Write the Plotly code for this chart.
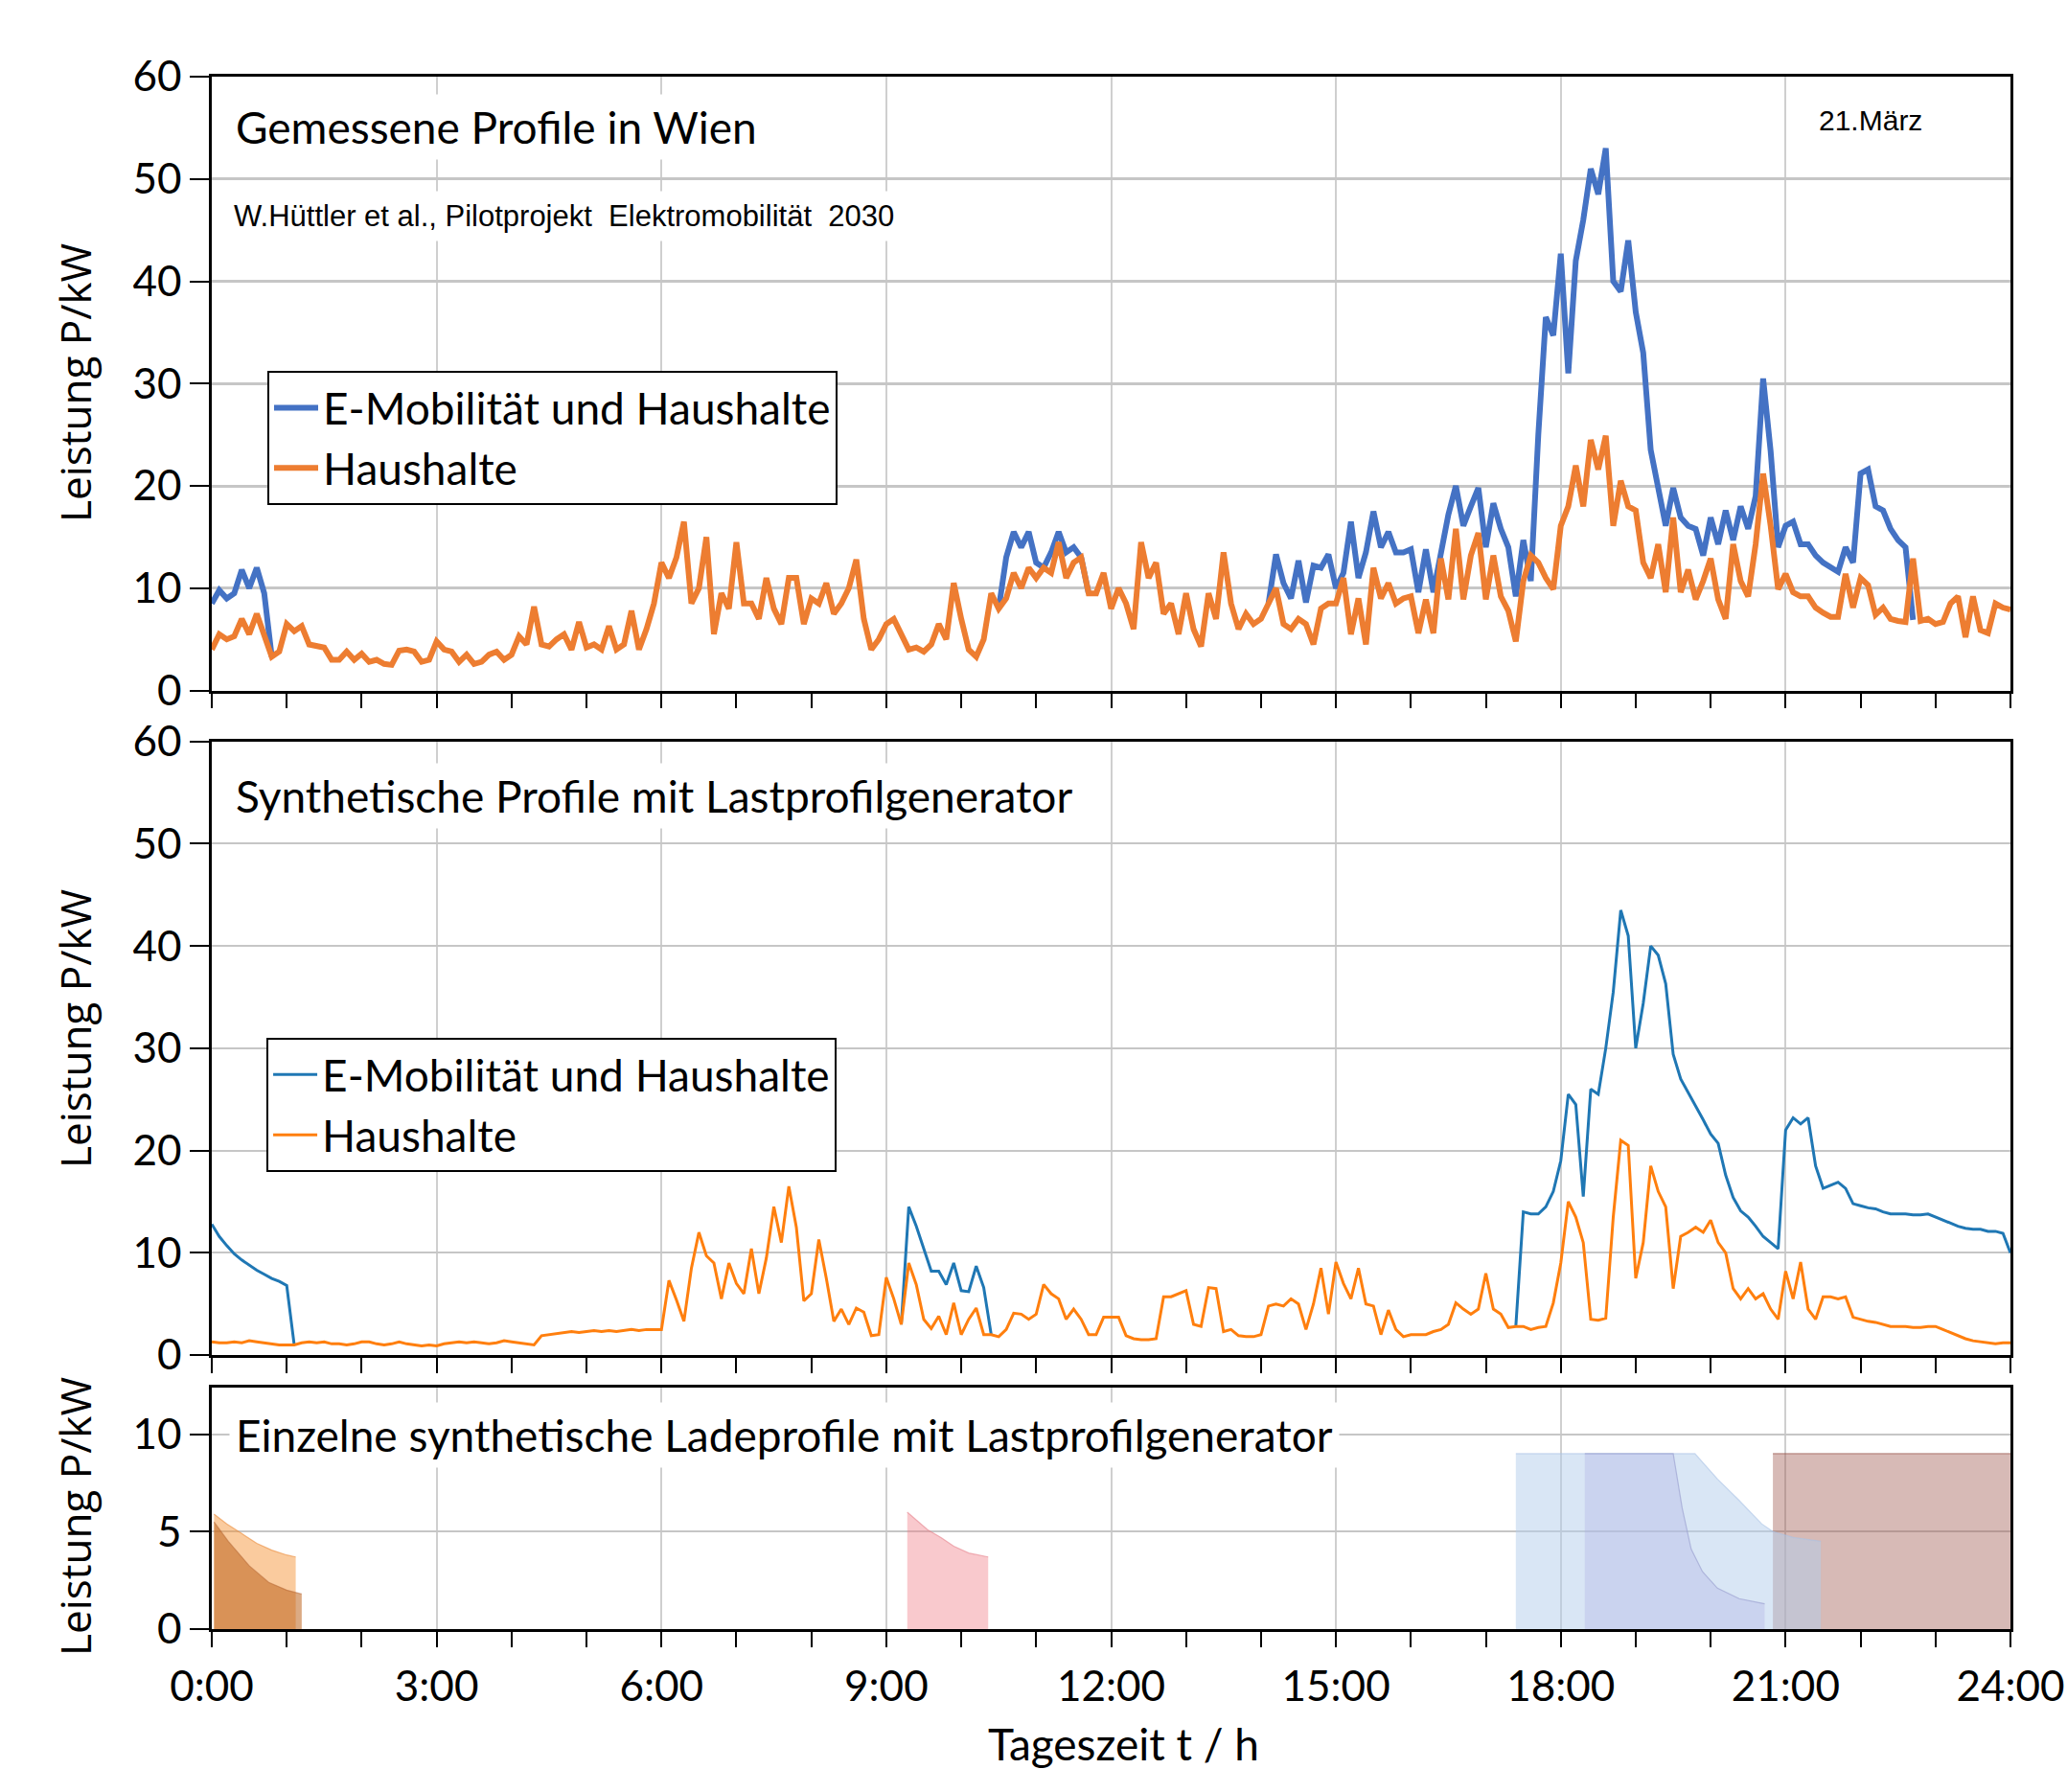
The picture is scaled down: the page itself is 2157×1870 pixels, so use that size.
import plotly.graph_objects as go

# ---------------- data ----------------
# time grid in hours (0.0 ... 24.0, step 0.1 h)
zeit_h = [i / 10 for i in range(241)]

# Top panel: measured profiles Vienna (kW)
haushalte_gemessen = [
    4.0, 5.5, 5.0, 5.3, 7.0, 5.5, 7.5, 5.5, 3.3, 3.8,
    6.5, 5.8, 6.3, 4.5, 4.3, 4.2, 3.0, 3.0, 3.8, 3.0,
    3.6, 2.8, 3.0, 2.6, 2.5, 3.9, 4.0, 3.8, 2.8, 3.0,
    4.8, 4.0, 3.8, 2.8, 3.5, 2.6, 2.8, 3.5, 3.8, 3.0,
    3.5, 5.3, 4.5, 8.2, 4.5, 4.3, 5.0, 5.5, 4.0, 6.7,
    4.2, 4.5, 4.0, 6.3, 4.0, 4.5, 7.8, 4.0, 6.0, 8.5,
    12.5, 11.0, 13.0, 16.5, 8.5, 10.0, 15.0, 5.5, 9.5, 8.0,
    14.5, 8.5, 8.5, 7.0, 11.0, 8.0, 6.5, 11.0, 11.0, 6.5,
    9.0, 8.5, 10.5, 7.5, 8.5, 10.0, 12.8, 7.0, 4.0, 5.0,
    6.5, 7.0, 5.5, 4.0, 4.2, 3.8, 4.5, 6.5, 5.0, 10.5,
    7.0, 4.0, 3.3, 5.0, 9.5, 8.0, 9.0, 11.5, 10.0, 12.0,
    11.0, 12.0, 11.5, 14.5, 11.0, 12.5, 13.0, 9.5, 9.5, 11.5,
    8.0, 10.0, 8.5, 6.0, 14.5, 11.0, 12.5, 7.5, 8.5, 5.5,
    9.5, 6.0, 4.3, 9.5, 7.0, 13.5, 8.5, 6.0, 7.5, 6.5,
    7.0, 8.5, 10.0, 6.5, 6.0, 7.0, 6.5, 4.5, 8.0, 8.5,
    8.5, 11.0, 5.5, 9.0, 4.5, 12.0, 9.0, 10.5, 8.5, 9.0,
    9.2, 5.6, 8.9, 5.6, 12.9, 8.9, 15.8, 8.9, 13.2, 15.4,
    8.9, 13.2, 9.2, 7.8, 4.8, 10.7, 13.2, 12.5, 11.0, 9.9,
    16.1, 18.0, 22.0, 18.0, 24.5, 21.6, 24.9, 16.1, 20.5, 18.0,
    17.6, 12.5, 11.0, 14.3, 9.6, 16.9, 9.6, 11.8, 8.9, 10.7,
    12.9, 8.9, 7.0, 14.3, 10.7, 9.2, 14.3, 21.2, 16.1, 9.9,
    11.4, 9.6, 9.2, 9.2, 8.1, 7.6, 7.2, 7.2, 11.4, 8.1,
    11.0, 10.3, 7.4, 8.1, 7.0, 6.8, 6.7, 12.9, 6.8, 7.0,
    6.5, 6.7, 8.5, 9.2, 5.2, 9.2, 5.9, 5.6, 8.5, 8.1,
    7.9,
]
N = None
emob_haushalte_gemessen = [
    8.5, 9.8, 9.0, 9.5, 11.8, 10.0, 12.0, 9.5, 3.3, N,
    N, N, N, N, N, N, N, N, N, N,
    N, N, N, N, N, N, N, N, N, N,
    N, N, N, N, N, N, N, N, N, N,
    N, N, N, N, N, N, N, N, N, N,
    N, N, N, N, N, N, N, N, N, N,
    N, N, N, N, N, N, N, N, N, N,
    N, N, N, N, N, N, N, N, N, N,
    N, N, N, N, N, N, N, N, N, N,
    N, N, N, N, N, N, N, N, N, N,
    N, N, N, N, N, 8.0, 13.0, 15.5, 14.0, 15.5,
    12.5, 12.0, 13.5, 15.5, 13.5, 14.0, 13.0, 9.5, N, N,
    N, N, N, N, N, N, N, N, N, N,
    N, N, N, N, N, N, N, N, N, N,
    N, 8.5, 13.3, 10.5, 9.0, 12.7, 8.6, 12.2, 12.0, 13.3,
    10.0, 11.5, 16.5, 11.0, 13.5, 17.5, 14.0, 15.5, 13.5, 13.5,
    13.8, 9.6, 13.8, 9.6, 13.2, 17.2, 20.0, 16.1, 18.0, 19.8,
    14.0, 18.3, 15.8, 14.0, 9.2, 14.7, 10.7, 25.0, 36.5, 34.7,
    42.7, 31.0, 42.0, 46.0, 51.0, 48.5, 53.0, 40.0, 39.0, 44.0,
    37.0, 33.0, 23.5, 19.8, 16.1, 19.8, 16.9, 16.1, 15.8, 13.2,
    16.9, 14.3, 17.6, 14.7, 18.0, 15.8, 19.0, 30.5, 23.4, 14.0,
    16.1, 16.5, 14.3, 14.3, 13.2, 12.5, 12.0, 11.6, 14.0, 12.5,
    21.2, 21.6, 18.0, 17.6, 15.8, 14.7, 14.0, 6.9, N, N,
    N, N, N, N, N, N, N, N, N, N,
    N,
]

# Middle panel: synthetic profiles (load profile generator), kW
haushalte_synth = [
    1.3, 1.2, 1.2, 1.3, 1.2, 1.4, 1.3, 1.2, 1.1, 1.0,
    1.0, 1.0, 1.2, 1.3, 1.2, 1.3, 1.1, 1.1, 1.0, 1.1,
    1.3, 1.3, 1.1, 1.0, 1.1, 1.3, 1.1, 1.0, 0.9, 1.0,
    0.9, 1.1, 1.2, 1.3, 1.2, 1.3, 1.2, 1.1, 1.2, 1.4,
    1.3, 1.2, 1.1, 1.0, 1.9, 2.0, 2.1, 2.2, 2.3, 2.2,
    2.3, 2.4, 2.3, 2.4, 2.3, 2.4, 2.5, 2.4, 2.5, 2.5,
    2.5, 7.3, 5.4, 3.3, 8.5, 12.0, 9.7, 9.0, 5.5, 9.0,
    7.0, 6.0, 10.4, 6.0, 9.5, 14.5, 11.0, 16.5, 12.5, 5.3,
    6.0, 11.3, 7.5, 3.3, 4.5, 3.0, 4.6, 4.2, 1.9, 2.0,
    7.6, 5.5, 3.0, 9.0, 6.9, 3.5, 2.6, 3.8, 2.0, 5.1,
    2.0, 3.5, 4.6, 2.0, 2.0, 1.8, 2.5, 4.1, 4.0, 3.5,
    4.0, 6.9, 6.0, 5.5, 3.5, 4.5, 3.5, 2.0, 2.0, 3.7,
    3.7, 3.7, 1.9, 1.6, 1.5, 1.5, 1.6, 5.7, 5.7, 6.0,
    6.3, 3.0, 2.8, 6.6, 6.5, 2.3, 2.5, 1.9, 1.8, 1.8,
    2.0, 4.8, 5.0, 4.8, 5.5, 5.0, 2.5, 5.0, 8.5, 4.0,
    9.1, 7.0, 5.5, 8.5, 5.0, 4.8, 2.0, 4.4, 2.5, 1.8,
    2.0, 2.0, 2.0, 2.3, 2.5, 3.0, 5.1, 4.5, 4.0, 4.5,
    8.0, 4.5, 4.0, 2.7, 2.8, 2.8, 2.5, 2.7, 2.8, 5.1,
    9.0, 15.0, 13.5, 11.0, 3.5, 3.4, 3.6, 13.5, 21.0, 20.5,
    7.5, 11.0, 18.5, 16.0, 14.5, 6.5, 11.6, 12.0, 12.5, 12.0,
    13.2, 11.0, 10.0, 6.5, 5.5, 6.5, 5.5, 6.0, 4.5, 3.5,
    8.2, 5.5, 9.1, 4.5, 3.5, 5.7, 5.7, 5.5, 5.7, 3.7,
    3.5, 3.3, 3.2, 3.0, 2.8, 2.8, 2.8, 2.7, 2.7, 2.8,
    2.8, 2.5, 2.2, 1.9, 1.6, 1.4, 1.3, 1.2, 1.1, 1.2,
    1.2,
]
emob_haushalte_synth = [
    12.8, 11.6, 10.7, 9.9, 9.3, 8.8, 8.3, 7.9, 7.5, 7.2,
    6.8, 1.0, N, N, N, N, N, N, N, N,
    N, N, N, N, N, N, N, N, N, N,
    N, N, N, N, N, N, N, N, N, N,
    N, N, N, N, N, N, N, N, N, N,
    N, N, N, N, N, N, N, N, N, N,
    N, N, N, N, N, N, N, N, N, N,
    N, N, N, N, N, N, N, N, N, N,
    N, N, N, N, N, N, N, N, N, N,
    N, N, 3.0, 14.5, 12.6, 10.4, 8.2, 8.2, 6.9, 9.0,
    6.3, 6.2, 8.7, 6.6, 2.0, N, N, N, N, N,
    N, N, N, N, N, N, N, N, N, N,
    N, N, N, N, N, N, N, N, N, N,
    N, N, N, N, N, N, N, N, N, N,
    N, N, N, N, N, N, N, N, N, N,
    N, N, N, N, N, N, N, N, N, N,
    N, N, N, N, N, N, N, N, N, N,
    N, N, N, N, 2.8, 14.0, 13.8, 13.8, 14.5, 16.0,
    19.0, 25.5, 24.5, 15.5, 26.0, 25.5, 30.0, 35.5, 43.5, 41.0,
    30.0, 34.4, 40.0, 39.1, 36.3, 29.4, 27.0, 25.7, 24.4, 23.0,
    21.6, 20.7, 17.6, 15.4, 14.1, 13.5, 12.6, 11.6, 11.0, 10.4,
    22.0, 23.2, 22.6, 23.2, 18.5, 16.3, 16.6, 16.9, 16.3, 14.8,
    14.6, 14.4, 14.3, 14.0, 13.8, 13.8, 13.8, 13.7, 13.7, 13.8,
    13.5, 13.2, 12.9, 12.6, 12.4, 12.3, 12.3, 12.1, 12.1, 11.9,
    10.0,
]

# Bottom panel: individual synthetic charging profiles (time h, power kW)
lade_braun_t = [20.83, 24.0]
lade_braun_p = [9.0, 9.0]
lade_hellblau_t = [17.4, 19.79, 20.09, 20.38, 20.68, 20.83, 21.1, 21.47]
lade_hellblau_p = [9.0, 9.0, 7.7, 6.6, 5.4, 5.0, 4.7, 4.5]
lade_lavendel_t = [18.32, 19.5, 19.62, 19.74, 19.89, 20.09, 20.38, 20.72]
lade_lavendel_p = [9.0, 9.0, 6.2, 4.1, 2.95, 2.1, 1.56, 1.3]
lade_orange_t = [0.03, 0.2, 0.4, 0.6, 0.8, 1.0, 1.12]
lade_orange_p = [5.9, 5.4, 4.9, 4.4, 4.05, 3.8, 3.7]
lade_dunkel_t = [0.03, 0.22, 0.5, 0.76, 1.0, 1.2]
lade_dunkel_p = [5.5, 4.5, 3.25, 2.4, 2.0, 1.8]
lade_rosa_t = [9.28, 9.4, 9.55, 9.73, 9.9, 10.1, 10.36]
lade_rosa_p = [6.0, 5.6, 5.1, 4.7, 4.25, 3.9, 3.7]

x_tick_werte = [0, 3, 6, 9, 12, 15, 18, 21, 24]
x_tick_text = ["0:00", "3:00", "6:00", "9:00", "12:00", "15:00", "18:00", "21:00", "24:00"]

legend_namen = ["E-Mobilität und Haushalte", "Haushalte"]

# ---------------- figure ----------------
BLAU_G, ORANGE_G = "#4472C4", "#ED7D31"
BLAU_S, ORANGE_S = "#1f77b4", "#ff7f0e"
CAL = "Lato"

fig = go.Figure()

# top panel
fig.add_trace(go.Scatter(x=zeit_h, y=emob_haushalte_gemessen, mode="lines",
                         name=legend_namen[0], line=dict(color=BLAU_G, width=6),
                         xaxis="x", yaxis="y", legend="legend"))
fig.add_trace(go.Scatter(x=zeit_h, y=haushalte_gemessen, mode="lines",
                         name=legend_namen[1], line=dict(color=ORANGE_G, width=6),
                         xaxis="x", yaxis="y", legend="legend"))
# middle panel
fig.add_trace(go.Scatter(x=zeit_h, y=emob_haushalte_synth, mode="lines",
                         name=legend_namen[0], line=dict(color=BLAU_S, width=3),
                         xaxis="x2", yaxis="y2", legend="legend2"))
fig.add_trace(go.Scatter(x=zeit_h, y=haushalte_synth, mode="lines",
                         name=legend_namen[1], line=dict(color=ORANGE_S, width=3),
                         xaxis="x2", yaxis="y2", legend="legend2"))

# bottom panel fills
def fill(t, p, fc, lc):
    fig.add_trace(go.Scatter(x=t, y=p, mode="lines", fill="tozeroy", fillcolor=fc,
                             line=dict(color=lc, width=1.2), showlegend=False,
                             xaxis="x3", yaxis="y3", hoverinfo="skip"))

fill(lade_braun_t, lade_braun_p, "rgba(160,90,80,0.42)", "rgba(150,80,70,0.6)")
fill(lade_hellblau_t, lade_hellblau_p, "rgba(180,205,235,0.5)", "rgba(170,195,230,0.6)")
fill(lade_lavendel_t, lade_lavendel_p, "rgba(170,170,225,0.3)", "rgba(150,155,205,0.6)")
fill(lade_orange_t, lade_orange_p, "rgba(245,140,40,0.45)", "rgba(235,140,60,0.6)")
fill(lade_dunkel_t, lade_dunkel_p, "rgba(190,100,30,0.55)", "rgba(180,100,50,0.5)")
fill(lade_rosa_t, lade_rosa_p, "rgba(240,120,130,0.4)", "rgba(230,130,140,0.6)")

# axes
def xax(domain_anchor, labels):
    return dict(range=[0, 24], anchor=domain_anchor, domain=[0, 1], automargin=False,
                showline=True, linecolor="black", linewidth=2.5, mirror=True,
                tickmode="array", tickvals=x_tick_werte,
                ticktext=x_tick_text if labels else [""] * len(x_tick_werte),
                showticklabels=labels,
                ticks="outside", ticklen=16, tickwidth=2, tickcolor="black",
                showgrid=True, gridcolor="#cfcfcf", gridwidth=1.5, zeroline=False,
                minor=dict(dtick=1, tick0=0, ticks="outside", ticklen=16,
                           tickwidth=2, tickcolor="black", showgrid=False),
                tickfont=dict(family=CAL, size=44, color="black"),
                ticklabelstandoff=3)

def yax(domain, rng, tickvals, anchor, gw):
    return dict(range=rng, domain=domain, anchor=anchor, automargin=False,
                tickmode="array", tickvals=tickvals,
                showline=True, linecolor="black", linewidth=2.5, mirror=True,
                ticks="outside", ticklen=20, tickwidth=2, tickcolor="black",
                showgrid=True, gridcolor="#c6c6c6", gridwidth=gw, zeroline=False,
                tickfont=dict(family=CAL, size=44, color="black"),
                ticklabelstandoff=0)

leg_common = dict(xanchor="left", yanchor="top",
                  bgcolor="white", bordercolor="black", borderwidth=2,
                  font=dict(family=CAL, size=46, color="black"),
                  tracegroupgap=0, itemwidth=46)

fig.update_layout(
    width=2157, height=1870,
    margin=dict(l=221, r=59, t=80, b=170, autoexpand=False),
    paper_bgcolor="white", plot_bgcolor="white",
    xaxis=xax("y", False),
    xaxis2=xax("y2", False),
    xaxis3=xax("y3", True),
    yaxis=yax([0.6046, 1.0], [0, 60], [0, 10, 20, 30, 40, 50, 60], "x", 2.5),
    yaxis2=yax([0.1765, 0.5718], [0, 60], [0, 10, 20, 30, 40, 50, 60], "x2", 2.2),
    yaxis3=yax([0, 0.1557], [0, 12.4], [0, 5, 10], "x3", 2.2),
    legend=dict(x=0.0309, y=0.8105, **leg_common),
    legend2=dict(x=0.0304, y=0.3809, **leg_common),
    showlegend=True,
)

ann_font = dict(family=CAL, size=46, color="black")
annotations = [
    dict(text="Gemessene Profile in Wien", x=0.0096, y=0.9673, xref="paper", yref="paper",
         xanchor="left", yanchor="middle", showarrow=False, font=ann_font,
         bgcolor="white", borderpad=6),
    dict(text="W.Hüttler et al., Pilotprojekt  Elektromobilität  2030", x=0.0077, y=0.9101,
         xref="paper", yref="paper", xanchor="left", yanchor="middle", showarrow=False,
         font=dict(family="Liberation Sans", size=31, color="black"),
         bgcolor="white", borderpad=8),
    dict(text="21.März", x=0.8924, y=0.9722, xref="paper", yref="paper",
         xanchor="left", yanchor="middle", showarrow=False,
         font=dict(family="Liberation Sans", size=30, color="black")),
    dict(text="Synthetische Profile mit Lastprofilgenerator", x=0.0096, y=0.537,
         xref="paper", yref="paper", xanchor="left", yanchor="middle", showarrow=False,
         font=ann_font, bgcolor="white", borderpad=6),
    dict(text="Einzelne synthetische Ladeprofile mit Lastprofilgenerator", x=0.0096, y=0.1247,
         xref="paper", yref="paper", xanchor="left", yanchor="middle", showarrow=False,
         font=ann_font, bgcolor="white", borderpad=6),
    dict(text="Tageszeit t / h", x=0.5067, y=-0.0735, xref="paper", yref="paper",
         xanchor="center", yanchor="middle", showarrow=False, font=ann_font),
]
for yc in [0.8031, 0.3870, 0.0728]:
    annotations.append(dict(text="Leistung P/kW", x=-0.0762, y=yc, xref="paper", yref="paper",
                            xanchor="center", yanchor="middle", showarrow=False, textangle=-90,
                            font=dict(family="Open Sans", size=44, color="black")))
fig.update_layout(annotations=annotations)

fig.write_html("out.html", config={"displayModeBar": False},
               post_script="document.body.style.margin='0';document.body.style.padding='0';")
